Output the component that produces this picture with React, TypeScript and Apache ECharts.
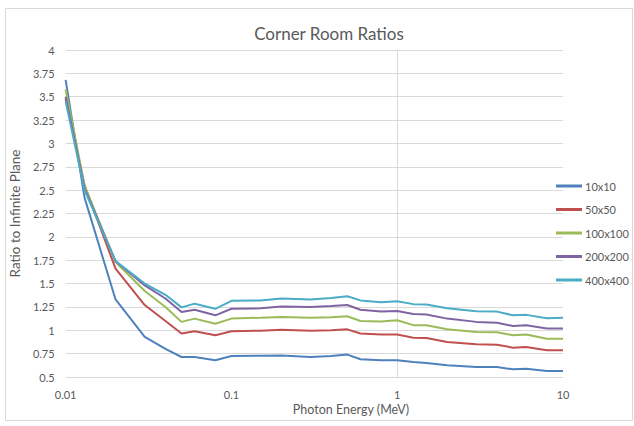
import React, { useEffect, useRef } from "react";
import * as echarts from "echarts";

// Photon energies (MeV) shared by every series
const energies = [
  0.01, 0.013, 0.02, 0.03, 0.04, 0.05, 0.06, 0.08, 0.1, 0.15, 0.2, 0.3, 0.4, 0.5,
  0.6, 0.8, 1, 1.25, 1.5, 2, 3, 4, 5, 6, 8, 10,
];

const seriesNames = ["10x10", "50x50", "100x100", "200x200", "400x400"];

const room10 = [
  3.68, 2.42, 1.33, 0.93, 0.8, 0.714, 0.714, 0.68, 0.725, 0.728, 0.73, 0.714, 0.725, 0.74,
  0.69, 0.68, 0.68, 0.66, 0.65, 0.625, 0.607, 0.607, 0.582, 0.589, 0.564, 0.564,
];
const room50 = [
  3.48, 2.55, 1.66, 1.27, 1.1, 0.965, 0.99, 0.946, 0.99, 0.995, 1.005, 0.995, 1.0, 1.01,
  0.965, 0.955, 0.954, 0.921, 0.918, 0.875, 0.85, 0.846, 0.814, 0.821, 0.786, 0.786,
];
const room100 = [
  3.58, 2.55, 1.73, 1.42, 1.25, 1.09, 1.125, 1.07, 1.125, 1.135, 1.143, 1.135, 1.14, 1.15,
  1.1, 1.095, 1.107, 1.055, 1.054, 1.01, 0.982, 0.979, 0.946, 0.954, 0.91, 0.91,
];
const room200 = [
  3.5, 2.52, 1.74, 1.48, 1.34, 1.195, 1.22, 1.16, 1.23, 1.235, 1.255, 1.25, 1.26, 1.27,
  1.22, 1.2, 1.207, 1.175, 1.17, 1.125, 1.09, 1.08, 1.045, 1.055, 1.02, 1.02,
];
const room400 = [
  3.45, 2.5, 1.74, 1.5, 1.38, 1.245, 1.285, 1.23, 1.315, 1.32, 1.34, 1.33, 1.345, 1.365,
  1.32, 1.3, 1.31, 1.28, 1.275, 1.235, 1.205, 1.2, 1.16, 1.165, 1.13, 1.135,
];

const allValues = [room10, room50, room100, room200, room400];
const colors = ["#4F81BD", "#C0504D", "#9BBB59", "#8064A2", "#4BACC6"];

const FONT = "Lato, 'Open Sans', sans-serif";
const TEXT = "#595959";
const GRID = "#D9D9D9";

export default function App() {
  const ref = useRef<HTMLDivElement>(null);

  useEffect(() => {
    if (!ref.current) return;
    const chart = echarts.init(ref.current, undefined, { renderer: "svg" });

    const series = seriesNames.map((name, i) => ({
      name,
      type: "line",
      data: energies.map((e, j) => [e, allValues[i][j]]),
      symbol: "none",
      showSymbol: false,
      lineStyle: { width: 2, color: colors[i] },
      itemStyle: { color: colors[i] },
      z: 3,
      ...(i === 0
        ? {
            markLine: {
              silent: true,
              symbol: ["none", "none"],
              label: { show: false },
              lineStyle: { color: GRID, width: 1, type: "solid" },
              data: [{ xAxis: 1 }],
              z: 1,
            },
          }
        : {}),
    }));

    chart.setOption({
      animation: false,
      backgroundColor: "#ffffff",
      textStyle: { fontFamily: FONT },
      title: {
        text: "Corner Room Ratios",
        left: 324,
        top: 20,
        textAlign: "center",
        textStyle: { fontFamily: FONT, fontSize: 17, fontWeight: "normal", color: TEXT },
      },
      graphic: [
        {
          type: "rect",
          shape: { x: 5.5, y: 8.5, width: 627, height: 412 },
          style: { fill: "none", stroke: GRID, lineWidth: 1 },
          silent: true,
          z: -1,
        },
        {
          type: "text",
          x: 351,
          y: 409,
          style: {
            text: "Photon Energy (MeV)",
            fontFamily: FONT,
            fontSize: 12.5,
            fill: TEXT,
            align: "center",
            verticalAlign: "middle",
          },
          silent: true,
        },
      ],
      legend: {
        orient: "vertical",
        left: 556,
        top: 179,
        padding: 0,
        icon: "rect",
        itemWidth: 26,
        itemHeight: 3,
        itemGap: 9.5,
        textStyle: {
          fontFamily: FONT,
          fontSize: 11,
          color: TEXT,
          lineHeight: 14,
          padding: [0, 0, 0, -2],
        },
        data: seriesNames,
      },
      grid: { left: 56, right: 71, top: 50, bottom: 49, containLabel: false },
      xAxis: {
        type: "log",
        logBase: 10,
        min: 0.01,
        max: 10,
        axisLine: { show: false },
        axisTick: { show: false },
        splitLine: { show: false },
        axisLabel: {
          fontFamily: FONT,
          fontSize: 11,
          color: TEXT,
          margin: 12,
          formatter: (v: number) => String(Number(v.toPrecision(6))),
        },
      },
      yAxis: {
        type: "value",
        min: 0.5,
        max: 4,
        interval: 0.25,
        name: "Ratio to Infinite Plane",
        nameLocation: "middle",
        nameGap: 31,
        nameTextStyle: { fontFamily: FONT, fontSize: 13.5, color: TEXT },
        axisLine: { show: false },
        axisTick: { show: false },
        splitLine: { show: true, lineStyle: { color: GRID, width: 1 } },
        axisLabel: {
          fontFamily: FONT,
          fontSize: 11,
          color: TEXT,
          margin: 11,
          formatter: (v: number) => String(Number(v.toPrecision(6))),
        },
      },
      series,
    });

    return () => chart.dispose();
  }, []);

  return (
    <div
      ref={ref}
      style={{ position: "fixed", left: 0, top: 0, width: 634, height: 426 }}
    />
  );
}
